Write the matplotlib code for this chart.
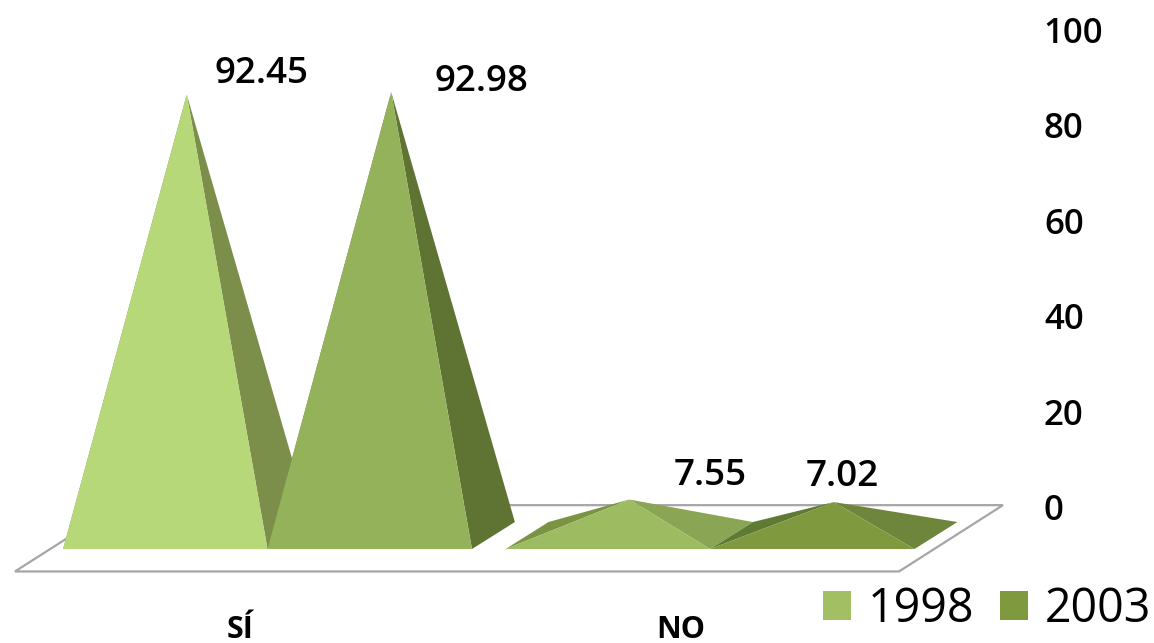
import matplotlib
matplotlib.use('Agg')
import matplotlib.pyplot as plt
from matplotlib.patches import Polygon, Patch

# data
categories = ['SÍ', 'NO']
series_names = ['1998', '2003']
values_1998 = [92.45, 7.55]
values_2003 = [92.98, 7.02]
y_ticks = [0, 20, 40, 60, 80, 100]

plt.rcParams['font.family'] = ['Open Sans', 'DejaVu Sans']

# colours: front, left side, right side, one row per bar
colors_1998 = [('#B7D878', '#7F9A4C', '#7B8F4B'), ('#9DBB61', '#7A9444', '#8AA554')]
colors_2003 = [('#94B25A', '#6E8A3C', '#5F7433'), ('#7F993F', '#5F7A33', '#6E863B')]
legend_colors = ['#A3BF63', '#7F993F']

bar_w = 0.462     # pyramid base width, in category units
depth_x = 0.097   # oblique depth of a pyramid base
depth_y = 5.66
front_y = -8.8    # value-axis height of the base front edge at value 0

fig = plt.figure(figsize=(11.54, 6.43), dpi=100)
ax = fig.add_axes([0, 0, 1030 / 1154, 1])
ax.set_xlim(-0.6045, 1.723)
ax.set_ylim(-28.5, 106.3)
for s in ax.spines.values():
    s.set_visible(False)
ax.set_xticks([])
ax.yaxis.tick_right()
ax.set_yticks(y_ticks)
ax.tick_params(axis='y', length=0, pad=10, labelsize=25)
for lab in ax.get_yticklabels():
    lab.set_fontweight('semibold')

# floor
floor = [(-0.5706, -13.5), (1.427, -13.5), (1.662, 0.4), (-0.3356, 0.4)]
ax.add_patch(Polygon(floor, closed=True, facecolor='white', edgecolor='#A6A6A6', lw=1.6, zorder=1))


def pyramid(left, value, cols, z):
    fl = (left, front_y)
    fr = (left + bar_w, front_y)
    bl = (left + depth_x, front_y + depth_y)
    br = (left + bar_w + depth_x, front_y + depth_y)
    apex = (left + bar_w / 2 + depth_x / 2, front_y + depth_y / 2 + value)
    ax.add_patch(Polygon([apex, fl, bl], closed=True, facecolor=cols[1], edgecolor='none', zorder=z))
    ax.add_patch(Polygon([apex, fr, br], closed=True, facecolor=cols[2], edgecolor='none', zorder=z))
    ax.add_patch(Polygon([apex, fl, fr], closed=True, facecolor=cols[0], edgecolor='none', zorder=z + 0.1))
    return apex


label_offsets = [[(75, 21), (90, 10)], [(81, 24), (9, 25)]]  # px from apex
z = 2
for i in range(len(categories)):
    for j, (vals, cols) in enumerate([(values_1998, colors_1998), (values_2003, colors_2003)]):
        apex = pyramid(i - bar_w + j * bar_w, vals[i], cols[i], z)
        z += 1
        dx, dy = label_offsets[i][j]
        ax.annotate('%.2f' % vals[i], apex, xytext=(dx * 0.72, dy * 0.72), textcoords='offset points',
                    ha='center', va='center', fontsize=26.5, fontweight='semibold', color='black', zorder=20)

# category labels sit a bit left of the pyramids' common edge
for i, cat in enumerate(categories):
    ax.annotate(cat, (i, -28.5), xytext=(-27 * 0.72 - i * 2 * 0.72, 5 * 0.72), textcoords='offset points',
                ha='center', va='baseline', fontsize=22, fontweight='bold', color='black')

handles = [Patch(facecolor=c, edgecolor='none') for c in legend_colors]
fig.legend(handles, series_names, ncol=2, loc='center left', bbox_to_anchor=(823 / 1154, 1 - 609 / 643),
           frameon=False, fontsize=33.5, handlelength=0.6, handleheight=0.6, handletextpad=0.36,
           columnspacing=0.56, borderpad=0, borderaxespad=0)

fig.savefig('out.png', dpi=100)
